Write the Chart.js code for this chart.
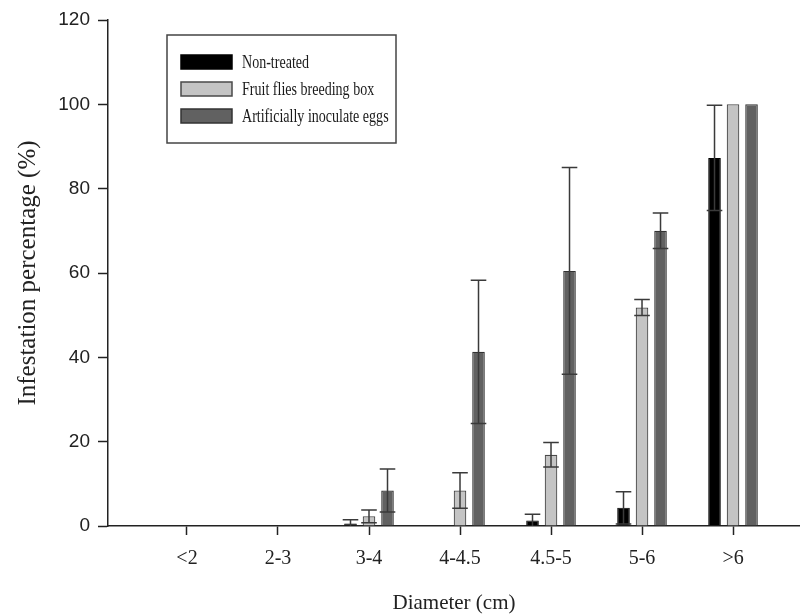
<!DOCTYPE html>
<html>
<head>
<meta charset="utf-8">
<script src="https://cdn.jsdelivr.net/npm/chart.js@4.4.1/dist/chart.umd.min.js"></script>
<style>
  html, body { margin: 0; padding: 0; background: #fff; }
  #wrap { width: 800px; height: 614px; }
</style>
</head>
<body>
<div id="wrap"><canvas id="chart"></canvas></div>
<script>
// diameter classes
var categories = ['<2', '2-3', '3-4', '4-4.5', '4.5-5', '5-6', '>6'];

// infestation % (mean) and error (half bar) per treatment
var nonTreated    = [0, 0, 0.6, 0, 1.3, 4.3, 87.3];
var nonTreatedErr = [0, 0, 0.9, 0, 1.5, 3.8, 12.5];
var fruitBox      = [0, 0, 2.3, 8.4, 16.9, 51.8, 100];
var fruitBoxErr   = [0, 0, 1.5, 4.2, 2.9, 1.9, 0];
var artificial    = [0, 0, 8.4, 41.3, 60.5, 70, 100];
var artificialErr = [0, 0, 5.1, 17, 24.5, 4.2, 0];

var yTicks = [0, 20, 40, 60, 80, 100, 120];

function pts(arr) {
  return arr.map(function (v, i) { return { x: i, y: v }; });
}

// error bars drawn on top of the bars (both directions, SigmaPlot style)
var errorBars = {
  id: 'errorBars',
  afterDatasetsDraw: function (chart) {
    var ctx = chart.ctx;
    var yScale = chart.scales.y;
    ctx.save();
    ctx.strokeStyle = '#3a3a3a';
    ctx.lineWidth = 1.5;
    chart.data.datasets.forEach(function (ds, di) {
      var meta = chart.getDatasetMeta(di);
      meta.data.forEach(function (bar, i) {
        var err = ds.errors[i];
        if (!err) return;
        var v = ds.data[i].y;
        var yTop = yScale.getPixelForValue(v + err);
        var yBot = yScale.getPixelForValue(Math.max(v - err, 0));
        var half = bar.width / 2 + 1.5;
        ctx.beginPath();
        ctx.moveTo(bar.x, yTop);
        ctx.lineTo(bar.x, yBot);
        ctx.moveTo(bar.x - half, yTop);
        ctx.lineTo(bar.x + half, yTop);
        if (v - err > 0) {
          ctx.moveTo(bar.x - half, yBot);
          ctx.lineTo(bar.x + half, yBot);
        }
        ctx.stroke();
      });
    });
    ctx.restore();
  }
};

// boxed legend inside the plot, upper left
var boxLegend = {
  id: 'boxLegend',
  afterDraw: function (chart) {
    var ctx = chart.ctx;
    var x0 = 167, y0 = 35, w = 229, h = 108;
    ctx.save();
    ctx.fillStyle = '#fff';
    ctx.fillRect(x0, y0, w, h);
    ctx.strokeStyle = '#444';
    ctx.lineWidth = 1.5;
    ctx.strokeRect(x0, y0, w, h);
    ctx.font = '18px "Liberation Serif", "Times New Roman", serif';
    ctx.textBaseline = 'middle';
    chart.data.datasets.forEach(function (ds, i) {
      var cy = 62 + i * 27;
      ctx.fillStyle = ds.backgroundColor;
      ctx.fillRect(181, cy - 7, 51, 14);
      ctx.strokeStyle = ds.borderColor;
      ctx.lineWidth = 1.5;
      ctx.strokeRect(181, cy - 7, 51, 14);
      ctx.fillStyle = '#1a1a1a';
      // the original lettering is narrow, squeeze it a little
      var tw = ctx.measureText(ds.label).width;
      ctx.fillText(ds.label, 242, cy + 1, tw * 0.78);
    });
    ctx.restore();
  }
};

var ctx = document.getElementById('chart').getContext('2d');
var chart = new Chart(ctx, {
  type: 'bar',
  data: {
    datasets: [
      {
        label: 'Non-treated',
        data: pts(nonTreated),
        errors: nonTreatedErr,
        backgroundColor: '#000000',
        borderColor: '#000000',
        borderWidth: 1
      },
      {
        label: 'Fruit flies breeding box',
        data: pts(fruitBox),
        errors: fruitBoxErr,
        backgroundColor: '#c4c4c4',
        borderColor: '#4a4a4a',
        borderWidth: 1.2
      },
      {
        label: 'Artificially inoculate eggs',
        data: pts(artificial),
        errors: artificialErr,
        backgroundColor: '#616161',
        borderColor: '#333333',
        borderWidth: 1.2
      }
    ]
  },
  options: {
    responsive: true,
    maintainAspectRatio: false,
    animation: false,
    layout: { padding: { top: 20, left: 0, right: 0, bottom: 0 } },
    datasets: {
      bar: { categoryPercentage: 0.61, barPercentage: 0.68 }
    },
    plugins: {
      legend: { display: false },
      tooltip: { enabled: false }
    },
    scales: {
      x: {
        type: 'linear',
        offset: false,
        min: -0.868,
        max: 6.736,
        afterFit: function (scale) { scale.height = 88; },
        border: { color: '#222', width: 1.5 },
        grid: { display: true, offset: false, drawOnChartArea: false, drawTicks: true, tickLength: 9, tickColor: '#222', tickWidth: 1.5 },
        ticks: {
          stepSize: 1,
          includeBounds: false,
          autoSkip: false,
          maxRotation: 0,
          padding: 12,
          color: '#222',
          font: { family: '"Liberation Serif", "Times New Roman", serif', size: 20 },
          callback: function (v) { return categories[v] !== undefined ? categories[v] : ''; }
        },
        title: {
          display: true,
          text: 'Diameter (cm)',
          color: '#222',
          font: { family: '"Liberation Serif", "Times New Roman", serif', size: 21, lineHeight: 1 },
          padding: { top: 0, bottom: 0 }
        }
      },
      y: {
        min: 0,
        max: 120,
        afterFit: function (scale) { scale.width = 108; },
        afterBuildTicks: function (scale) {
          scale.ticks = yTicks.map(function (v) { return { value: v }; });
        },
        border: { color: '#222', width: 1.5 },
        grid: { display: true, drawOnChartArea: false, drawTicks: true, tickLength: 10, tickColor: '#222', tickWidth: 1.5 },
        ticks: {
          padding: 8,
          color: '#222',
          font: { family: '"Liberation Sans", Arial, sans-serif', size: 19 }
        },
        title: {
          display: true,
          text: 'Infestation percentage (%)',
          color: '#222',
          font: { family: '"Liberation Serif", "Times New Roman", serif', size: 25, lineHeight: 1 },
          padding: { top: 16, bottom: 0 }
        }
      }
    }
  },
  plugins: [errorBars, boxLegend]
});
</script>
</body>
</html>
